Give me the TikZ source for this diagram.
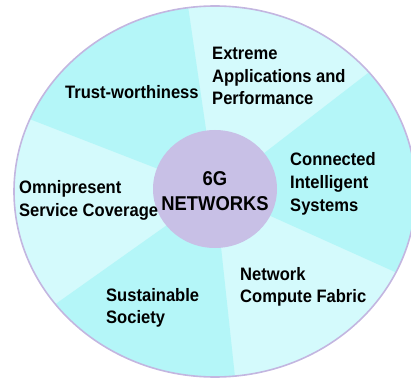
\documentclass[tikz,border=0pt]{standalone}
\usepackage{fontspec}
\setmainfont{Liberation Sans}[FakeStretch=0.92]
\definecolor{darkcy}{HTML}{B4F6F8}
\definecolor{lightcy}{HTML}{D4FAFC}
\definecolor{hub}{HTML}{C8C0E6}
\definecolor{rim}{HTML}{C3B6E0}
\begin{document}
\begin{tikzpicture}[x=1pt,y=-1pt,
  lbl/.style={font=\fontsize{18}{22.5}\selectfont\bfseries, align=left, inner sep=0pt, anchor=base west},
  hubtxt/.style={font=\fontsize{20}{25}\selectfont\bfseries, align=center, inner sep=0pt, anchor=base}]
\useasboundingbox (0,0) rectangle (411,379);
\clip (0,0) rectangle (411,379);
\coordinate (c) at (215,191);
\coordinate (fA) at (161,-179);
\coordinate (fB) at (521,-45);
\coordinate (fC) at (575,353);
\coordinate (fD) at (255,563);
\coordinate (fE) at (-101,415);
\coordinate (fF) at (-151,49);
\begin{scope}
  \clip (215,191.5) ellipse [x radius=201pt, y radius=185.5pt];
  \fill[lightcy] (215,191.5) ellipse [x radius=201pt, y radius=185.5pt];
  \fill[darkcy] (c) -- (fF) -- (fA) -- cycle;
  \fill[darkcy] (c) -- (fB) -- (fC) -- cycle;
  \fill[darkcy] (c) -- (fD) -- (fE) -- cycle;
\end{scope}
\draw[rim, line width=1.6pt] (215,191.5) ellipse [x radius=201pt, y radius=185.5pt];
\fill[hub] (215,189) ellipse [x radius=62pt, y radius=59pt];
\node[lbl] (trust) at (65,99) {Trust-worthiness};
\node[lbl] (extreme) at (212,105) {Extreme\\Applications and\\Performance};
\node[lbl] (connected) at (290,211) {Connected\\Intelligent\\Systems};
\node[lbl] (omni) at (19,216) {Omnipresent\\Service Coverage};
\node[lbl] (fabric) at (240,302.5) {Network\\Compute Fabric};
\node[lbl] (sustain) at (106,323.5) {Sustainable\\Society};
\node[hubtxt] (hubtext) at (215,210) {6G\\NETWORKS};
\end{tikzpicture}
\end{document}
